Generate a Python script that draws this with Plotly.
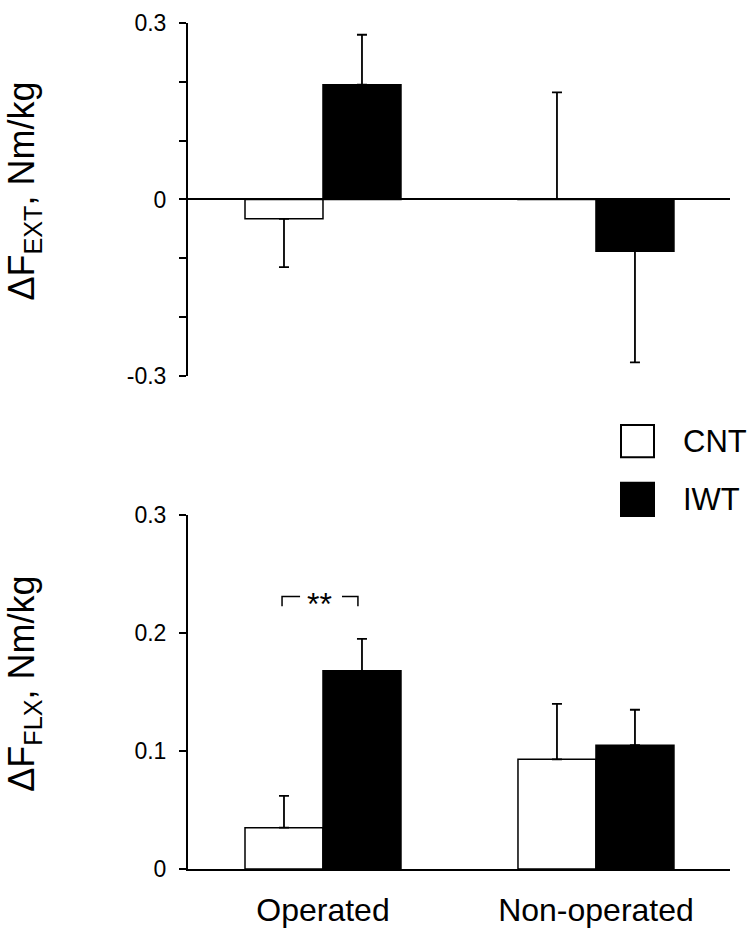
import plotly.graph_objects as go

# ---------------- data ----------------
categories = ["Operated", "Non-operated"]
series_names = ["CNT", "IWT"]

ext_cnt = [-0.033, 0.001]
ext_iwt = [0.195, -0.088]
ext_cnt_err = [0.082, 0.181]
ext_iwt_err = [0.085, 0.189]

flx_cnt = [0.035, 0.093]
flx_iwt = [0.168, 0.105]
flx_cnt_err = [0.027, 0.047]
flx_iwt_err = [0.027, 0.030]

ext_ticks = [-0.3, 0, 0.3]
ext_ticktext = ["-0.3", "0", "0.3"]
ext_minor_ticks = [-0.2, -0.1, 0.1, 0.2]
flx_ticks = [0, 0.1, 0.2, 0.3]
flx_ticktext = ["0", "0.1", "0.2", "0.3"]

sig_label = "**"

# ---------------- layout geometry ----------------
W, H = 752, 938
ML, MR, MT, MB = 188, 22, 10, 65
PW = W - ML - MR
PH = H - MT - MB


def px_x(p):
    return (p - ML) / PW


def px_y(p):
    return (H - MB - p) / PH


FONT = "Arial, 'Liberation Sans', Helvetica, sans-serif"
fills = ["white", "black"]


def err_dir(vals, errs):
    up = [e if v >= 0 else 0 for v, e in zip(vals, errs)]
    dn = [e if v < 0 else 0 for v, e in zip(vals, errs)]
    return up, dn


fig = go.Figure()

panels = [
    ("x", "y", [ext_cnt, ext_iwt], [ext_cnt_err, ext_iwt_err]),
    ("x2", "y2", [flx_cnt, flx_iwt], [flx_cnt_err, flx_iwt_err]),
]
for xa, ya, vals, errs in panels:
    for name, v, e, fc in zip(series_names, vals, errs, fills):
        up, dn = err_dir(v, e)
        fig.add_trace(go.Bar(
            x=categories, y=v, name=name, xaxis=xa, yaxis=ya,
            marker=dict(color=fc, line=dict(color="black", width=1.5)),
            error_y=dict(type="data", symmetric=False, array=up, arrayminus=dn,
                         color="black", thickness=1.8, width=5),
            showlegend=False, hoverinfo="skip",
        ))

tick_font = dict(size=23, family=FONT, color="black")
fig.update_layout(
    width=W, height=H,
    margin=dict(l=ML, r=MR, t=MT, b=MB),
    paper_bgcolor="white", plot_bgcolor="white",
    font=dict(family=FONT, color="black"),
    barmode="group", bargap=0.4286, bargroupgap=0,
    xaxis=dict(domain=[0, 1], anchor="y", range=[-0.4945, 1.491],
               showline=False, showticklabels=False, ticks="",
               zeroline=False, showgrid=False),
    yaxis=dict(domain=[px_y(370), px_y(10)], anchor="x", range=[-0.3, 0.3],
               tickmode="array", tickvals=ext_ticks, ticktext=ext_ticktext,
               ticks="outside", ticklen=7, tickwidth=2, tickcolor="black",
               minor=dict(tickmode="array", tickvals=ext_minor_ticks,
                          ticks="outside", ticklen=7, tickwidth=2,
                          tickcolor="black", showgrid=False),
               showline=True, linewidth=2, linecolor="black",
               zeroline=True, zerolinecolor="black", zerolinewidth=2,
               showgrid=False, tickfont=tick_font, ticklabelstandoff=8),
    xaxis2=dict(domain=[0, 1], anchor="y2", range=[-0.4945, 1.491],
                showline=True, linewidth=2, linecolor="black",
                ticks="", tickfont=dict(size=32, family=FONT, color="black"),
                ticklabelstandoff=12, showgrid=False, zeroline=False),
    yaxis2=dict(domain=[px_y(873), px_y(512)], anchor="x2", range=[0, 0.3],
                tickmode="array", tickvals=flx_ticks, ticktext=flx_ticktext,
                ticks="outside", ticklen=7, tickwidth=2, tickcolor="black",
                showline=True, linewidth=2, linecolor="black",
                zeroline=False, showgrid=False,
                tickfont=tick_font, ticklabelstandoff=8),
)

# y-axis titles
for title, yc in [("ΔF<sub>EXT</sub>, Nm/kg", 182), ("ΔF<sub>FLX</sub>, Nm/kg", 684)]:
    fig.add_annotation(text=title, xref="paper", yref="paper",
                       x=px_x(24), y=px_y(yc), xanchor="center", yanchor="middle",
                       textangle=-90, showarrow=False,
                       font=dict(size=36, family=FONT, color="black"))

# legend (drawn)
boxes = [(420, 453), (479, 513)]
for name, fc, (y0, y1) in zip(series_names, fills, boxes):
    fig.add_shape(type="rect", xref="paper", yref="paper",
                  x0=px_x(621), x1=px_x(654), y0=px_y(y1), y1=px_y(y0),
                  fillcolor=fc, line=dict(color="black", width=2))
    fig.add_annotation(text=name, xref="paper", yref="paper",
                       x=px_x(681), y=px_y((y0 + y1) / 2), xanchor="left",
                       yanchor="middle", showarrow=False,
                       font=dict(size=31, family=FONT, color="black"))

# significance bracket
yb_top, yb_bot = 0.231, 0.2228
fig.add_shape(type="path", xref="x2", yref="y2",
              path=f"M -0.150 {yb_bot} L -0.150 {yb_top} L -0.084 {yb_top}",
              line=dict(color="black", width=1.5))
fig.add_shape(type="path", xref="x2", yref="y2",
              path=f"M 0.0696 {yb_top} L 0.128 {yb_top} L 0.128 {yb_bot}",
              line=dict(color="black", width=1.5))
fig.add_annotation(text=sig_label, xref="x2", yref="y2", x=-0.012, y=0.2245,
                   xanchor="center", yanchor="middle", showarrow=False,
                   font=dict(size=32, family=FONT, color="black"))

fig.write_html(
    "out.html",
    config={"displayModeBar": False},
    post_script="document.body.style.margin='0';"
                "document.documentElement.style.overflow='hidden';"
                "document.body.style.overflow='hidden';",
)
